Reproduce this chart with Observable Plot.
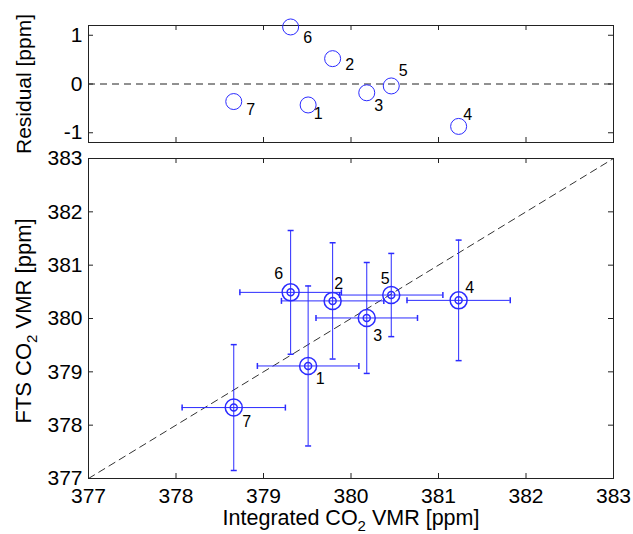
<!DOCTYPE html>
<html><head><meta charset="utf-8">
<script src="https://cdn.jsdelivr.net/npm/d3@7"></script>
<script src="https://cdn.jsdelivr.net/npm/@observablehq/plot@0.6"></script>
<style>
body{margin:0;background:#fff;}
#wrap{position:relative;width:633px;height:534px;font-family:"Liberation Sans",Arial,sans-serif;}
#wrap svg{position:absolute;left:0;overflow:visible;}
</style></head><body><div id="wrap"></div>
<script>
// ---- data ----
const ids = [1, 2, 3, 4, 5, 6, 7];
const integrated = [379.51, 379.79, 380.18, 381.23, 380.46, 379.31, 378.66];
const fts = [379.11, 380.33, 380.01, 380.34, 380.44, 380.49, 378.33];
const integratedErr = [0.58, 0.585, 0.58, 0.59, 0.59, 0.58, 0.59];
const ftsErr = [1.50, 1.09, 1.04, 1.13, 0.78, 1.16, 1.18];
const residual = [-0.43, 0.52, -0.18, -0.87, -0.04, 1.17, -0.36];
const xTicks = [377, 378, 379, 380, 381, 382, 383];
const yTicks = [377, 378, 379, 380, 381, 382, 383];
const resTicks = [-1, 0, 1];
const oneToOne = [377, 383];

// ---- styling ----
const W = 633, L = 88, R = 20;
const innerW = W - L - R;
const blue = "#2b2bff";
const frameC = "#222";
const font = "'Liberation Sans', Arial, sans-serif";
const tickFs = 21;
const topLabelOff = {1:[10,9], 2:[17,6], 3:[12,13], 4:[9,-12], 5:[12,-15], 6:[17,11], 7:[17,8]};
const botLabelOff = {1:[12,13], 2:[6,-17], 3:[11,18], 4:[11,-12], 5:[-6,-16], 6:[-12,-18], 7:[13,14]};

const rows = ids.map((id, i) => ({id, x: integrated[i], y: fts[i], ex: integratedErr[i], ey: ftsErr[i], r: residual[i]}));

const hcap = {draw(ctx, size) { const h = Math.sqrt(size / Math.PI); ctx.moveTo(-h, 0); ctx.lineTo(h, 0); }};
const vcap = {draw(ctx, size) { const h = Math.sqrt(size / Math.PI); ctx.moveTo(0, -h); ctx.lineTo(0, h); }};

function inwardTicks(xt, yt, ih) {
  return [
    Plot.tickX(xt, {x: d => d, insetTop: ih - 5, stroke: frameC}),
    Plot.tickX(xt, {x: d => d, insetBottom: ih - 5, stroke: frameC}),
    Plot.tickY(yt, {y: d => d, insetLeft: innerW - 5, stroke: frameC}),
    Plot.tickY(yt, {y: d => d, insetRight: innerW - 5, stroke: frameC})
  ];
}
function labels(key, off, fs) {
  return ids.map(id => Plot.text(rows.filter(d => d.id === id), {
    x: "x", y: key, text: d => String(d.id), dx: off[id][0], dy: off[id][1],
    fontSize: fs, fill: "#000"
  }));
}

// ---- top panel ----
const topH = 150, topMT = 25, topMB = 8;
const topPlot = Plot.plot({
  width: W, height: topH, marginLeft: L, marginRight: R, marginTop: topMT, marginBottom: topMB,
  style: {fontFamily: font, fontSize: tickFs + "px", background: "transparent", color: "#000"},
  x: {domain: [377, 383], axis: null},
  y: {domain: [-1.2, 1.2]},
  marks: [
    Plot.ruleY([0], {stroke: frameC, strokeDasharray: "7,5"}),
    ...inwardTicks(xTicks.slice(1, -1), resTicks, topH - topMT - topMB),
    Plot.frame({stroke: frameC}),
    Plot.axisY(resTicks, {tickSize: 0, tickPadding: 6, label: null, fontSize: tickFs, tickFormat: d => d === 0 ? "0" : d < 0 ? "-" + Math.abs(d) : String(d)}),
    Plot.dot(rows, {x: "x", y: "r", r: 8, stroke: blue, strokeWidth: 1}),
    ...labels("r", topLabelOff, 16)
  ]
});
topPlot.style.top = "0px";

// ---- bottom panel ----
const botTop = 140, botH = 394, botMT = 18, botMB = 56;
const botPlot = Plot.plot({
  width: W, height: botH, marginLeft: L, marginRight: R, marginTop: botMT, marginBottom: botMB,
  style: {fontFamily: font, fontSize: tickFs + "px", background: "transparent", color: "#000"},
  x: {domain: [377, 383]},
  y: {domain: [377, 383]},
  marks: [
    Plot.line(oneToOne.map(v => ({v})), {x: "v", y: "v", stroke: "#333", strokeDasharray: "7,5", strokeWidth: 1}),
    ...inwardTicks(xTicks, yTicks, botH - botMT - botMB),
    Plot.frame({stroke: frameC}),
    Plot.axisX(xTicks, {tickSize: 0, tickPadding: 10, label: null, fontSize: tickFs, tickFormat: d => String(d)}),
    Plot.axisY(yTicks, {tickSize: 0, tickPadding: 6, label: null, fontSize: tickFs, tickFormat: d => String(d)}),
    Plot.ruleX(rows, {x: "x", y1: d => d.y - d.ey, y2: d => d.y + d.ey, stroke: blue}),
    Plot.ruleY(rows, {y: "y", x1: d => d.x - d.ex, x2: d => d.x + d.ex, stroke: blue}),
    Plot.dot(rows, {x: "x", y: d => d.y - d.ey, symbol: hcap, r: 3, stroke: blue}),
    Plot.dot(rows, {x: "x", y: d => d.y + d.ey, symbol: hcap, r: 3, stroke: blue}),
    Plot.dot(rows, {x: d => d.x - d.ex, y: "y", symbol: vcap, r: 3, stroke: blue}),
    Plot.dot(rows, {x: d => d.x + d.ex, y: "y", symbol: vcap, r: 3, stroke: blue}),
    Plot.dot(rows, {x: "x", y: "y", r: 8.5, stroke: blue}),
    Plot.dot(rows, {x: "x", y: "y", r: 3.5, stroke: blue}),
    ...labels("y", botLabelOff, 16)
  ]
});
botPlot.style.top = botTop + "px";

const wrap = document.getElementById("wrap");
wrap.appendChild(topPlot);
wrap.appendChild(botPlot);

// ---- axis titles (with subscripts) ----
const ov = d3.select(wrap).append("svg")
  .attr("width", W).attr("height", 534)
  .style("top", "0px").style("pointer-events", "none")
  .attr("font-family", font).attr("fill", "#000");

function title(parts, x, y, rot, fs) {
  const t = ov.append("text").attr("text-anchor", "middle").attr("font-size", fs)
    .attr("transform", `translate(${x},${y})` + (rot ? " rotate(-90)" : ""));
  parts.forEach(p => {
    if (p.sub) {
      t.append("tspan").attr("font-size", Math.round(fs * 0.7)).attr("dy", 6).text(p.t);
    } else if (p.after) {
      t.append("tspan").attr("dy", -6).text(p.t);
    } else {
      t.append("tspan").text(p.t);
    }
  });
}
title([{t: "Residual [ppm]"}], 31, 84, true, 21);
title([{t: "FTS CO"}, {t: "2", sub: true}, {t: " VMR [ppm]", after: true}], 31, 321, true, 22);
title([{t: "Integrated CO"}, {t: "2", sub: true}, {t: " VMR [ppm]", after: true}], 351, 525, false, 21.5);
</script></body></html>
